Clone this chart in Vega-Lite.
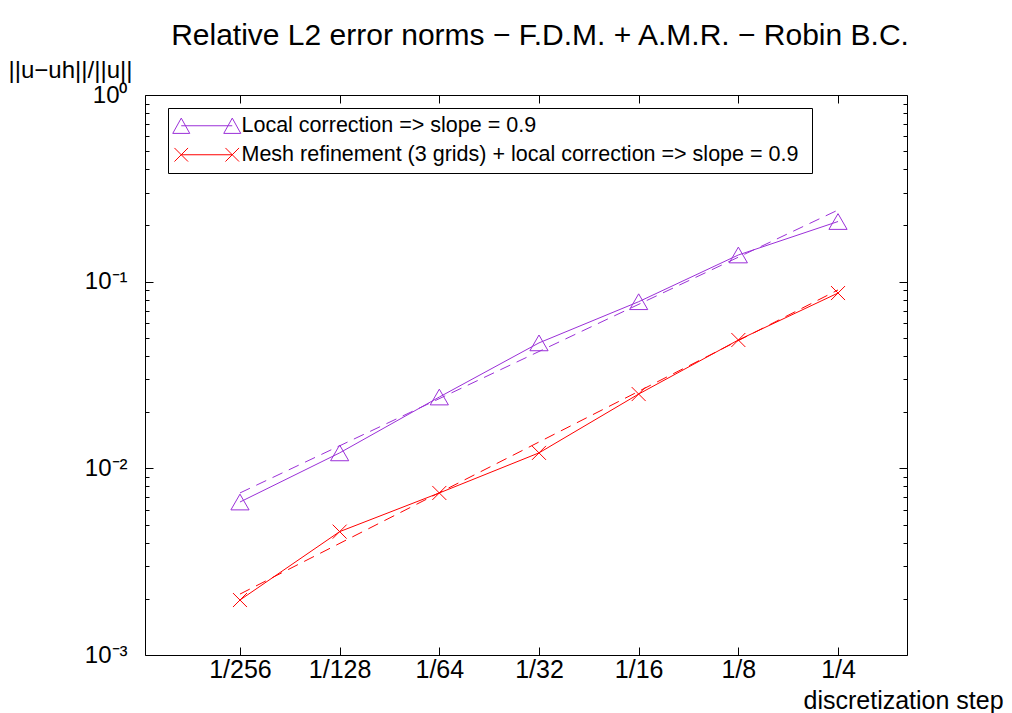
{
  "$schema": "https://vega.github.io/schema/vega-lite/v6.json",
  "autosize": "none",
  "padding": {"left": 145, "top": 95, "right": 105, "bottom": 58},
  "width": 762,
  "height": 560,
  "background": "white",
  "title": {
    "text": "Relative L2 error norms −  F.D.M. + A.M.R. − Robin B.C.",
    "font": "Liberation Sans",
    "fontSize": 30,
    "fontWeight": "normal",
    "color": "black",
    "anchor": "middle",
    "dx": 14,
    "dy": 32,
    "baseline": "alphabetic",
    "offset": 15
  },
  "config": {
    "view": {"stroke": null},
    "font": "Liberation Sans",
    "axis": {
      "grid": false,
      "labelFont": "Liberation Sans",
      "titleFont": "Liberation Sans",
      "domainColor": "black",
      "tickColor": "black",
      "labelColor": "black",
      "titleColor": "black",
      "domainWidth": 1,
      "tickWidth": 1,
      "labelOverlap": false,
      "labelFlush": false,
      "labelBound": false
    }
  },
  "data": {
    "values": [
      {"h": 0.00390625, "err": 0.0066, "series": "Local correction => slope = 0.9", "kind": "data"},
      {"h": 0.0078125, "err": 0.0121, "series": "Local correction => slope = 0.9", "kind": "data"},
      {"h": 0.015625, "err": 0.0241, "series": "Local correction => slope = 0.9", "kind": "data"},
      {"h": 0.03125, "err": 0.047, "series": "Local correction => slope = 0.9", "kind": "data"},
      {"h": 0.0625, "err": 0.0781, "series": "Local correction => slope = 0.9", "kind": "data"},
      {"h": 0.125, "err": 0.139, "series": "Local correction => slope = 0.9", "kind": "data"},
      {"h": 0.25, "err": 0.21, "series": "Local correction => slope = 0.9", "kind": "data"},
      {"h": 0.00390625, "err": 0.00738, "series": "Local correction => slope = 0.9", "kind": "fit"},
      {"h": 0.25, "err": 0.242, "series": "Local correction => slope = 0.9", "kind": "fit"},
      {"h": 0.00390625, "err": 0.00197, "series": "Mesh refinement (3 grids)  + local correction => slope = 0.9", "kind": "data"},
      {"h": 0.0078125, "err": 0.00458, "series": "Mesh refinement (3 grids)  + local correction => slope = 0.9", "kind": "data"},
      {"h": 0.015625, "err": 0.00738, "series": "Mesh refinement (3 grids)  + local correction => slope = 0.9", "kind": "data"},
      {"h": 0.03125, "err": 0.0121, "series": "Mesh refinement (3 grids)  + local correction => slope = 0.9", "kind": "data"},
      {"h": 0.0625, "err": 0.025, "series": "Mesh refinement (3 grids)  + local correction => slope = 0.9", "kind": "data"},
      {"h": 0.125, "err": 0.0487, "series": "Mesh refinement (3 grids)  + local correction => slope = 0.9", "kind": "data"},
      {"h": 0.25, "err": 0.0869, "series": "Mesh refinement (3 grids)  + local correction => slope = 0.9", "kind": "data"},
      {"h": 0.00390625, "err": 0.00212, "series": "Mesh refinement (3 grids)  + local correction => slope = 0.9", "kind": "fit"},
      {"h": 0.25, "err": 0.0903, "series": "Mesh refinement (3 grids)  + local correction => slope = 0.9", "kind": "fit"}
    ]
  },
  "resolve": {"axis": {"x": "independent", "y": "independent"}},
  "layer": [
    {
      "transform": [{"filter": "datum.kind == 'data' && datum.series == 'Local correction => slope = 0.9'"}],
      "mark": {"type": "line", "stroke": "#9b30d8", "strokeWidth": 1},
      "encoding": {
        "x": {
          "field": "h", "type": "quantitative",
          "scale": {"type": "log", "base": 2, "domain": [0.002018, 0.4039], "nice": false},
          "axis": {
            "orient": "bottom",
            "values": [0.00390625, 0.0078125, 0.015625, 0.03125, 0.0625, 0.125, 0.25],
            "labelExpr": "'1/' + round(1/datum.value)",
            "tickSize": -8,
            "labelPadding": 10,
            "labelFontSize": 25,
            "title": "discretization step",
            "titleFontSize": 25,
            "titleFontWeight": "normal",
            "titleAlign": "left",
            "titleBaseline": "middle",
            "titleX": 658,
            "titleY": 45
          }
        },
        "y": {
          "field": "err", "type": "quantitative",
          "scale": {"type": "log", "domain": [0.001, 1], "nice": false},
          "axis": {
            "orient": "left",
            "values": [0.001, 0.01, 0.1, 1],
            "labelExpr": "datum.value == 1 ? '10⁰' : datum.value == 0.1 ? '10⁻¹' : datum.value == 0.01 ? '10⁻²' : '10⁻³'",
            "tickSize": -8,
            "labelPadding": 26,
            "labelFontSize": 24,
            "title": "||u−uh||/||u||",
            "titleFontSize": 24,
            "titleFontWeight": "normal",
            "titleAngle": 0,
            "titleAlign": "left",
            "titleBaseline": "middle",
            "titleX": -137,
            "titleY": -25
          }
        }
      }
    },
    {
      "transform": [{"filter": "datum.kind == 'fit' && datum.series == 'Local correction => slope = 0.9'"}],
      "mark": {"type": "line", "stroke": "#9b30d8", "strokeWidth": 1, "strokeDash": [11, 7]},
      "encoding": {
        "x": {
          "field": "h", "type": "quantitative",
          "scale": {"type": "log", "base": 2, "domain": [0.002018, 0.4039], "nice": false},
          "axis": {
            "orient": "top",
            "values": [0.00390625, 0.0078125, 0.015625, 0.03125, 0.0625, 0.125, 0.25],
            "labels": false,
            "tickSize": -8,
            "title": null
          }
        },
        "y": {
          "field": "err", "type": "quantitative",
          "scale": {"type": "log", "domain": [0.001, 1], "nice": false},
          "axis": {
            "orient": "right",
            "values": [0.001, 0.01, 0.1, 1],
            "labels": false,
            "tickSize": -8,
            "title": null
          }
        }
      }
    },
    {
      "transform": [{"filter": "datum.kind == 'data' && datum.series != 'Local correction => slope = 0.9'"}],
      "mark": {"type": "line", "stroke": "#ff0000", "strokeWidth": 1},
      "encoding": {
        "x": {
          "field": "h", "type": "quantitative",
          "scale": {"type": "log", "base": 2, "domain": [0.002018, 0.4039], "nice": false},
          "axis": null
        },
        "y": {
          "field": "err", "type": "quantitative",
          "scale": {"type": "log", "domain": [0.001, 1], "nice": false},
          "axis": {
            "orient": "left",
            "values": [0.002, 0.003, 0.004, 0.005, 0.006, 0.007, 0.008, 0.009, 0.02, 0.03, 0.04, 0.05, 0.06, 0.07, 0.08, 0.09, 0.2, 0.3, 0.4, 0.5, 0.6, 0.7, 0.8, 0.9],
            "labels": false,
            "domain": false,
            "tickSize": -4,
            "title": null
          }
        }
      }
    },
    {
      "transform": [{"filter": "datum.kind == 'fit' && datum.series != 'Local correction => slope = 0.9'"}],
      "mark": {"type": "line", "stroke": "#ff0000", "strokeWidth": 1, "strokeDash": [11, 7]},
      "encoding": {
        "x": {
          "field": "h", "type": "quantitative",
          "scale": {"type": "log", "base": 2, "domain": [0.002018, 0.4039], "nice": false},
          "axis": null
        },
        "y": {
          "field": "err", "type": "quantitative",
          "scale": {"type": "log", "domain": [0.001, 1], "nice": false},
          "axis": {
            "orient": "right",
            "values": [0.002, 0.003, 0.004, 0.005, 0.006, 0.007, 0.008, 0.009, 0.02, 0.03, 0.04, 0.05, 0.06, 0.07, 0.08, 0.09, 0.2, 0.3, 0.4, 0.5, 0.6, 0.7, 0.8, 0.9],
            "labels": false,
            "domain": false,
            "tickSize": -4,
            "title": null
          }
        }
      }
    },
    {
      "transform": [{"filter": "datum.kind == 'data' && datum.series == 'Local correction => slope = 0.9'"}],
      "mark": {"type": "point", "shape": "triangle-up", "filled": false, "stroke": "#9b30d8", "strokeWidth": 1, "size": 330, "opacity": 1},
      "encoding": {
        "x": {"field": "h", "type": "quantitative", "scale": {"type": "log", "base": 2, "domain": [0.002018, 0.4039], "nice": false}, "axis": null},
        "y": {"field": "err", "type": "quantitative", "scale": {"type": "log", "domain": [0.001, 1], "nice": false}, "axis": null}
      }
    },
    {
      "transform": [{"filter": "datum.kind == 'data' && datum.series != 'Local correction => slope = 0.9'"}],
      "mark": {"type": "point", "shape": "M-1,-1L1,1M-1,1L1,-1", "filled": false, "stroke": "#ff0000", "strokeWidth": 1, "size": 196, "opacity": 1},
      "encoding": {
        "x": {"field": "h", "type": "quantitative", "scale": {"type": "log", "base": 2, "domain": [0.002018, 0.4039], "nice": false}, "axis": null},
        "y": {"field": "err", "type": "quantitative", "scale": {"type": "log", "domain": [0.001, 1], "nice": false}, "axis": null}
      }
    },
    {
      "transform": [{"filter": "datum.kind == 'data'"}],
      "mark": {"type": "point", "filled": false, "opacity": 0, "size": 289, "strokeWidth": 1},
      "encoding": {
        "x": {"field": "h", "type": "quantitative", "scale": {"type": "log", "base": 2, "domain": [0.002018, 0.4039], "nice": false}, "axis": null},
        "y": {"field": "err", "type": "quantitative", "scale": {"type": "log", "domain": [0.001, 1], "nice": false}, "axis": null},
        "color": {
          "field": "series", "type": "nominal",
          "scale": {"domain": ["Local correction => slope = 0.9", "Mesh refinement (3 grids)  + local correction => slope = 0.9"], "range": ["#9b30d8", "#ff0000"]},
          "legend": {
            "title": null,
            "orient": "none",
            "legendX": 23,
            "legendY": 13,
            "padding": 7,
            "strokeColor": "black",
            "fillColor": "white",
            "symbolOpacity": 1,
            "symbolSize": 289,
            "symbolStrokeWidth": 1,
            "symbolOffset": 21,
            "labelOffset": 24,
            "labelFontSize": 21.5,
            "labelFont": "Liberation Sans",
            "labelColor": "black",
            "labelLimit": 0,
            "rowPadding": 6
          }
        },
        "shape": {
          "field": "series", "type": "nominal",
          "scale": {"domain": ["Local correction => slope = 0.9", "Mesh refinement (3 grids)  + local correction => slope = 0.9"], "range": ["M-4,0.9L-3,-0.9L-2,0.9Z M2,0.9L3,-0.9L4,0.9Z M-3,0L3,0", "M-3.8,-0.8L-2.2,0.8M-3.8,0.8L-2.2,-0.8M2.2,-0.8L3.8,0.8M2.2,0.8L3.8,-0.8M-3,0L3,0"]}
        }
      }
    }
  ]
}
